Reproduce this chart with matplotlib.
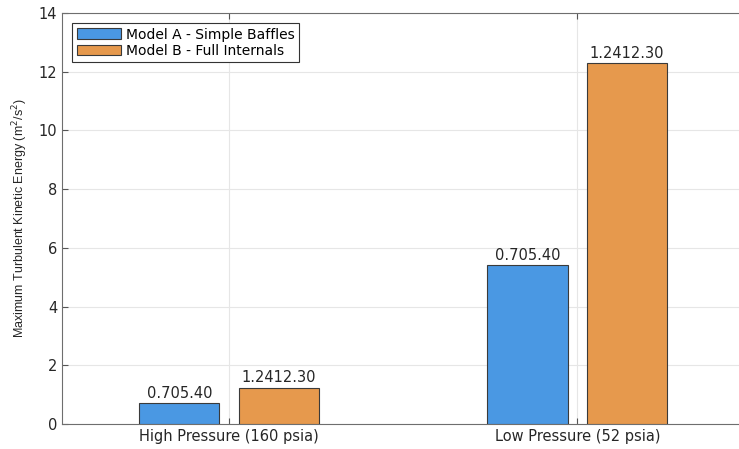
import matplotlib
matplotlib.use("Agg")
import matplotlib.pyplot as plt
import numpy as np

# Peak turbulent kinetic energy per operating case
conditions = ["High Pressure (160 psia)", "Low Pressure (52 psia)"]
model_a = [0.70, 5.40]
model_b = [1.24, 12.30]
series_names = ["Model A - Simple Baffles", "Model B - Full Internals"]

plt.rcParams["font.family"] = ["DejaVu Sans"]

fig = plt.figure(figsize=(7.39, 4.49), dpi=100)
ax = fig.add_axes([0.0839, 0.0557, 0.93, 0.9154])

x = np.arange(1, len(conditions) + 1)
width = 0.23
offset = 0.143
blue = "#4a98e3"
orange = "#e6994d"

bars_a = ax.bar(x - offset, model_a, width, color=blue, edgecolor="#3a3a3a",
                linewidth=0.8, label=series_names[0], zorder=3)
bars_b = ax.bar(x + offset, model_b, width, color=orange, edgecolor="#3a3a3a",
                linewidth=0.8, label=series_names[1], zorder=3)

# each bar gets the whole series printed as one string
label_a = "".join(f"{v:.2f}" for v in model_a)
label_b = "".join(f"{v:.2f}" for v in model_b)
for bars, text in ((bars_a, label_a), (bars_b, label_b)):
    for b in bars:
        ax.text(b.get_x() + b.get_width() / 2, b.get_height() + 0.08, text,
                ha="center", va="bottom", fontsize=10.5, color="#262626", zorder=4)

ax.set_xlim(0.52, 2.494)
ax.set_ylim(0, 14)
ax.set_xticks(x)
ax.set_xticklabels(conditions, fontsize=10.5, color="#262626")
ax.set_yticks(np.arange(0, 15, 2))
ax.tick_params(axis="y", labelsize=10.5, labelcolor="#262626")
ax.tick_params(direction="in", length=4, color="#555555", top=True)
ax.set_ylabel("Maximum Turbulent Kinetic Energy (m$^2$/s$^2$)", fontsize=9,
              color="#262626", labelpad=6,
              fontfamily=["Liberation Sans", "DejaVu Sans"])

ax.grid(True, color="#e6e6e6", linewidth=0.8, zorder=0)
ax.set_axisbelow(True)
for side in ("left", "bottom", "top"):
    ax.spines[side].set_color("#6e6e6e")
    ax.spines[side].set_linewidth(0.8)
ax.spines["right"].set_visible(False)

leg = ax.legend(loc="upper left", fontsize=10, handlelength=3.2, handleheight=0.8,
                borderaxespad=0.75, fancybox=False, edgecolor="#333333",
                framealpha=1, labelspacing=0.15, borderpad=0.3, handletextpad=0.35)
leg.get_frame().set_linewidth(0.8)

fig.savefig("out.png", dpi=100)
